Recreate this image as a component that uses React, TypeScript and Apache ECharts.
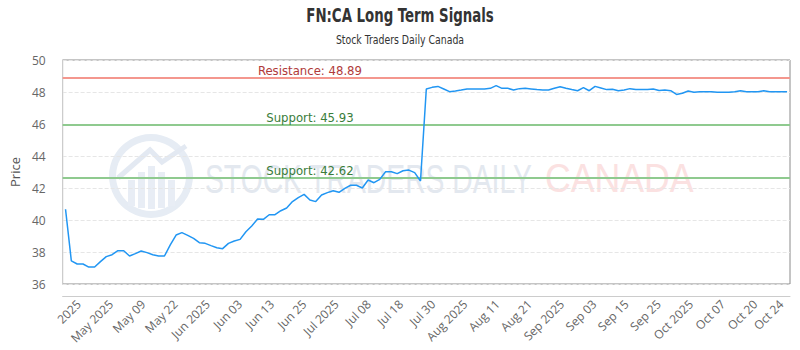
import React, { useEffect, useRef } from "react";
import * as echarts from "echarts";

const prices = [
  40.67, 37.44, 37.25, 37.25, 37.06, 37.06, 37.4, 37.71, 37.83, 38.08,
  38.08, 37.75, 37.9, 38.06, 37.96, 37.83, 37.75, 37.75, 38.44, 39.06,
  39.21, 39.04, 38.85, 38.58, 38.54, 38.4, 38.27, 38.21, 38.54, 38.69,
  38.79, 39.27, 39.62, 40.06, 40.04, 40.33, 40.33, 40.58, 40.75, 41.15,
  41.4, 41.6, 41.25, 41.15, 41.56, 41.71, 41.83, 41.73, 41.98, 42.17,
  42.17, 42.0, 42.5, 42.33, 42.54, 43.02, 43.02, 42.9, 43.08, 43.12,
  42.96, 42.44, 48.19, 48.29, 48.35, 48.19, 48.02, 48.06, 48.12, 48.19,
  48.19, 48.19, 48.19, 48.23, 48.4, 48.23, 48.23, 48.12, 48.21, 48.23,
  48.19, 48.15, 48.12, 48.12, 48.23, 48.33, 48.23, 48.15, 48.08, 48.27,
  48.08, 48.35, 48.25, 48.15, 48.17, 48.08, 48.12, 48.21, 48.15, 48.15,
  48.15, 48.19, 48.1, 48.12, 48.08, 47.85, 47.92, 48.06, 47.98, 48.02,
  48.02, 48.02, 47.98, 47.98, 47.98, 48.02, 48.08, 48.02, 48.02, 48.02,
  48.08, 48.02, 48.02, 48.02, 48.02,
];

const tickLabels = [
  "2025", "May 2025", "May 09", "May 22", "Jun 2025", "Jun 03", "Jun 13",
  "Jun 25", "Jul 2025", "Jul 08", "Jul 18", "Jul 30", "Aug 2025", "Aug 11",
  "Aug 21", "Sep 2025", "Sep 03", "Sep 15", "Sep 25", "Oct 2025", "Oct 07",
  "Oct 20",
];
const lastTickLabel = "Oct 24";
const lastTickIndex = 123;

const categories = prices.map((_, i) =>
  i === lastTickIndex ? lastTickLabel : `day ${i + 1}`
);

const titleText = "FN:CA Long Term Signals";
const subtitleText = "Stock Traders Daily Canada";
const resistanceLevel = 48.89;
const supportLevels = [45.93, 42.62];
const levelLabelIndex = 42;

const axisFont = "'Open Sans', 'DejaVu Sans', sans-serif";
const narrowFont = "'DejaVu Sans Condensed', 'Liberation Sans', sans-serif";

export default function App() {
  const ref = useRef<HTMLDivElement>(null);

  useEffect(() => {
    document.body.style.margin = "0";
    if (!ref.current) return;
    const chart = echarts.init(ref.current, undefined, { renderer: "svg" });

    const gridLeft = 60;
    const gridRight = 10;
    const gridWidth = 800 - gridLeft - gridRight;
    const labelUnit = 16.165;

    const xLabelStyle = {
      rotate: 45,
      color: "#666",
      fontSize: 12,
      fontFamily: axisFont,
      margin: 6,
    };

    const option: any = {
      animation: false,
      backgroundColor: "#fff",
      graphic: [
        {
          type: "text",
          x: 400,
          y: 15,
          scaleX: 0.78,
          z: 10,
          style: {
            text: titleText,
            fontSize: 19,
            fontWeight: "bold",
            fontFamily: narrowFont,
            fill: "#333",
            align: "center",
            verticalAlign: "middle",
          },
        },
        {
          type: "text",
          x: 400,
          y: 40,
          scaleX: 0.8,
          z: 10,
          style: {
            text: subtitleText,
            fontSize: 13,
            fontFamily: narrowFont,
            fill: "#333",
            align: "center",
            verticalAlign: "middle",
          },
        },
        {
          type: "group",
          z: 0,
          silent: true,
          children: [
            {
              type: "ring",
              shape: { cx: 151, cy: 176, r: 42, r0: 35 },
              style: { fill: "#e6ecf4" },
            },
            { type: "rect", shape: { x: 128, y: 180, width: 7, height: 26 }, style: { fill: "#e8edf5" } },
            { type: "rect", shape: { x: 138, y: 172, width: 7, height: 36 }, style: { fill: "#e8edf5" } },
            { type: "rect", shape: { x: 148, y: 166, width: 7, height: 43 }, style: { fill: "#e8edf5" } },
            { type: "rect", shape: { x: 158, y: 172, width: 7, height: 36 }, style: { fill: "#e8edf5" } },
            { type: "rect", shape: { x: 168, y: 180, width: 7, height: 26 }, style: { fill: "#e8edf5" } },
            {
              type: "polyline",
              shape: { points: [[118, 178], [150, 150], [162, 162], [186, 146]] },
              style: { stroke: "#e3e9f2", lineWidth: 5, fill: null },
            },
            {
              type: "text",
              x: 205,
              y: 178,
              scaleX: 0.69,
              style: {
                text: "STOCK TRADERS DAILY",
                fontSize: 41,
                fontFamily: "'Liberation Sans', sans-serif",
                fill: "#e3e8ef",
                verticalAlign: "middle",
                align: "left",
              },
            },
            {
              type: "text",
              x: 545,
              y: 178,
              scaleX: 0.87,
              style: {
                text: "CANADA",
                fontSize: 41,
                fontFamily: "'Liberation Sans', sans-serif",
                fill: "#fbe1e1",
                verticalAlign: "middle",
                align: "left",
              },
            },
          ],
        },
      ],
      grid: {
        left: gridLeft,
        right: gridRight,
        top: 60,
        bottom: 66,
        show: true,
        borderColor: "#8a8a8a",
        borderWidth: 1,
        backgroundColor: "transparent",
      },
      xAxis: [
        {
          type: "category",
          data: categories,
          boundaryGap: true,
          position: "bottom",
          offset: 12,
          axisLine: { show: true, lineStyle: { color: "#ccc", width: 1 } },
          axisTick: { show: false },
          splitLine: { show: false },
          axisLabel: {
            ...xLabelStyle,
            interval: (i: number) => i === lastTickIndex,
            formatter: (v: string) => v,
          },
        },
        {
          type: "value",
          min: 0,
          max: gridWidth / labelUnit,
          interval: 1,
          position: "bottom",
          offset: 12,
          axisLine: { show: false },
          axisTick: { show: false },
          splitLine: { show: false },
          axisLabel: {
            ...xLabelStyle,
            showMinLabel: true,
            showMaxLabel: false,
            formatter: (v: number) => {
              const k = Math.round(v);
              if (k % 2 !== 1) return "";
              const j = (k - 1) / 2;
              return tickLabels[j] ?? "";
            },
          },
        },
      ],
      yAxis: {
        type: "value",
        min: 36,
        max: 50,
        interval: 2,
        offset: 10,
        name: "Price",
        nameLocation: "middle",
        nameGap: 30,
        nameTextStyle: { fontSize: 13, color: "#555", fontFamily: axisFont },
        axisLine: { show: true, lineStyle: { color: "#ccc" } },
        axisTick: { show: false },
        axisLabel: { color: "#666", fontSize: 12, fontFamily: axisFont, margin: 7 },
        splitLine: { show: true, lineStyle: { type: "dashed", color: "#e6e6e6" } },
      },
      series: [
        {
          type: "line",
          data: prices,
          xAxisIndex: 0,
          showSymbol: false,
          symbol: "none",
          z: 5,
          lineStyle: { color: "#2196f3", width: 1.5 },
          markLine: {
            silent: true,
            symbol: "none",
            label: { show: false },
            data: [
              { yAxis: resistanceLevel, lineStyle: { color: "#f4978e", width: 2, type: "solid" } },
              ...supportLevels.map((s) => ({
                yAxis: s,
                lineStyle: { color: "#8fca8f", width: 2, type: "solid" },
              })),
            ],
          },
          markPoint: {
            silent: true,
            symbol: "circle",
            symbolSize: 0,
            itemStyle: { color: "rgba(0,0,0,0)" },
            data: [
              {
                coord: [categories[levelLabelIndex], resistanceLevel],
                label: {
                  show: true,
                  position: "top",
                  distance: 1,
                  formatter: `Resistance: ${resistanceLevel}`,
                  color: "#b03a3a",
                  fontSize: 13,
                  fontFamily: narrowFont,
                },
              },
              ...supportLevels.map((s) => ({
                coord: [categories[levelLabelIndex], s],
                label: {
                  show: true,
                  position: "top",
                  distance: 1,
                  formatter: `Support: ${s}`,
                  color: "#3a7d3a",
                  fontSize: 13,
                  fontFamily: narrowFont,
                },
              })),
            ],
          },
        },
      ],
    };

    chart.setOption(option);
    return () => chart.dispose();
  }, []);

  return <div ref={ref} style={{ width: 800, height: 350 }} />;
}
